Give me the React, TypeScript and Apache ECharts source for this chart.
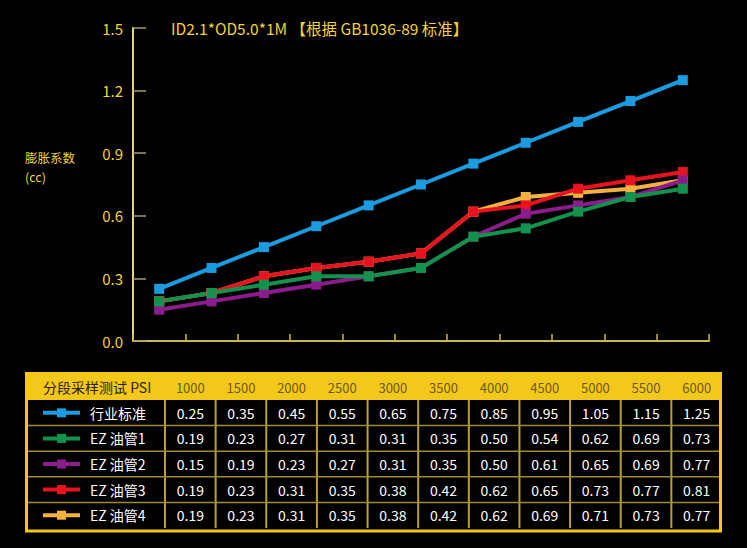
import React, { useEffect, useRef } from 'react';
import * as echarts from 'echarts';

const categories = ['1000', '1500', '2000', '2500', '3000', '3500', '4000', '4500', '5000', '5500', '6000'];
const seriesNames = ['行业标准', 'EZ 油管1', 'EZ 油管2', 'EZ 油管3', 'EZ 油管4'];
const standard = [0.25, 0.35, 0.45, 0.55, 0.65, 0.75, 0.85, 0.95, 1.05, 1.15, 1.25];
const ez1 = [0.19, 0.23, 0.27, 0.31, 0.31, 0.35, 0.5, 0.54, 0.62, 0.69, 0.73];
const ez2 = [0.15, 0.19, 0.23, 0.27, 0.31, 0.35, 0.5, 0.61, 0.65, 0.69, 0.77];
const ez3 = [0.19, 0.23, 0.31, 0.35, 0.38, 0.42, 0.62, 0.65, 0.73, 0.77, 0.81];
const ez4 = [0.19, 0.23, 0.31, 0.35, 0.38, 0.42, 0.62, 0.69, 0.71, 0.73, 0.77];
const seriesValues = [standard, ez1, ez2, ez3, ez4];
const colors = ['#1b9ce0', '#12924c', '#8c1b8c', '#e8131f', '#f4b140'];
const titleText = 'ID2.1*OD5.0*1M 【根据 GB1036-89 标准】';
const yAxisName = ['膨胀系数', '(cc)'];
const tableHeader = '分段采样测试 PSI';

const FONT = '"Noto Sans CJK SC", "Noto Sans", sans-serif';
const YELLOW = '#f3c81b';
const LABEL_YELLOW = '#f2d23a';

function buildTable(): any[] {
  const x0 = 25, x1 = 722, y0 = 372, headH = 28, rowH = 25.6, firstW = 140;
  const nCols = categories.length;
  const colW = (x1 - x0 - firstW) / nCols;
  const bodyTop = y0 + headH;
  const bodyBottom = bodyTop + rowH * seriesNames.length;
  const els: any[] = [];
  els.push({ type: 'rect', shape: { x: x0, y: y0, width: x1 - x0, height: bodyBottom + 3 - y0 }, style: { fill: '#000' } });
  els.push({ type: 'rect', shape: { x: x0, y: y0, width: x1 - x0, height: headH }, style: { fill: YELLOW } });
  for (let c = 0; c <= nCols - 1; c++) {
    const x = x0 + firstW + c * colW;
    els.push({ type: 'line', shape: { x1: x, y1: bodyTop, x2: x, y2: bodyBottom }, style: { stroke: '#b7a136', lineWidth: 2 } });
  }
  for (let r = 1; r < seriesNames.length; r++) {
    const y = bodyTop + r * rowH;
    els.push({ type: 'line', shape: { x1: x0, y1: y, x2: x1, y2: y }, style: { stroke: '#9c8a34', lineWidth: 1.5 } });
  }
  els.push({ type: 'rect', shape: { x: x0 + 1.5, y: y0 + 1.5, width: x1 - x0 - 3, height: bodyBottom + 1.5 - y0 }, style: { fill: 'none', stroke: YELLOW, lineWidth: 3 } });
  els.push({ type: 'text', x: 43, y: y0 + headH / 2 + 1, style: { text: tableHeader, fill: '#2a2200', font: `14px ${FONT}`, textVerticalAlign: 'middle', textAlign: 'left' } });
  categories.forEach((cat, c) => {
    els.push({ type: 'text', x: x0 + firstW + (c + 0.5) * colW, y: y0 + headH / 2 + 1, style: { text: cat, fill: '#6e5a18', font: `13px ${FONT}`, textAlign: 'center', textVerticalAlign: 'middle' } });
  });
  seriesNames.forEach((name, r) => {
    const cy = bodyTop + (r + 0.5) * rowH;
    els.push({ type: 'line', shape: { x1: 43, y1: cy, x2: 80, y2: cy }, style: { stroke: colors[r], lineWidth: 4 } });
    els.push({ type: 'rect', shape: { x: 57, y: cy - 4.5, width: 9, height: 9 }, style: { fill: colors[r] } });
    els.push({ type: 'text', x: 90, y: cy, style: { text: name, fill: '#ffffff', font: `14px ${FONT}`, textAlign: 'left', textVerticalAlign: 'middle' } });
    seriesValues[r].forEach((v, c) => {
      els.push({ type: 'text', x: x0 + firstW + (c + 0.5) * colW, y: cy, style: { text: v.toFixed(2), fill: '#ffffff', font: `14px ${FONT}`, textAlign: 'center', textVerticalAlign: 'middle' } });
    });
  });
  return els;
}

export default function App() {
  const ref = useRef<HTMLDivElement>(null);
  useEffect(() => {
    const chart = echarts.init(ref.current!, null, { renderer: 'svg' });
    const order = [4, 3, 2, 1, 0];
    chart.setOption({
      animation: false,
      backgroundColor: '#000',
      grid: { left: 133, right: 38, top: 28, bottom: 207 },
      xAxis: {
        type: 'category',
        data: categories,
        boundaryGap: true,
        axisLine: { lineStyle: { color: '#cbb94e', width: 2 } },
        axisTick: { show: true, inside: true, length: 7, lineStyle: { color: '#cbb94e', width: 1.5 } },
        axisLabel: { show: false },
        splitLine: { show: false },
      },
      yAxis: {
        type: 'value',
        min: 0,
        max: 1.5,
        interval: 0.3,
        axisLine: { show: true, lineStyle: { color: '#e3d48a', width: 2 } },
        axisTick: { show: true, inside: true, length: 13, lineStyle: { color: '#a59d6a', width: 1.5 } },
        axisLabel: { color: LABEL_YELLOW, fontSize: 15, fontFamily: FONT, margin: 10, formatter: (v: number) => v.toFixed(1) },
        splitLine: { show: false },
      },
      series: order.map((i) => ({
        name: seriesNames[i],
        type: 'line',
        data: seriesValues[i],
        symbol: 'rect',
        symbolSize: 10,
        showSymbol: true,
        lineStyle: { color: colors[i], width: 4 },
        itemStyle: { color: colors[i] },
      })),
      graphic: [
        { type: 'text', x: 171, y: 28, style: { text: titleText, fill: LABEL_YELLOW, font: `15.5px ${FONT}`, textVerticalAlign: 'middle' } },
        { type: 'text', x: 25, y: 157, style: { text: yAxisName[0], fill: LABEL_YELLOW, font: `12.5px ${FONT}`, textVerticalAlign: 'middle' } },
        { type: 'text', x: 25, y: 176, style: { text: yAxisName[1], fill: LABEL_YELLOW, font: `12.5px ${FONT}`, textVerticalAlign: 'middle' } },
        ...buildTable(),
      ],
    });
    return () => chart.dispose();
  }, []);
  return <div ref={ref} style={{ position: 'fixed', left: 0, top: 0, width: 747, height: 548, background: '#000' }} />;
}
